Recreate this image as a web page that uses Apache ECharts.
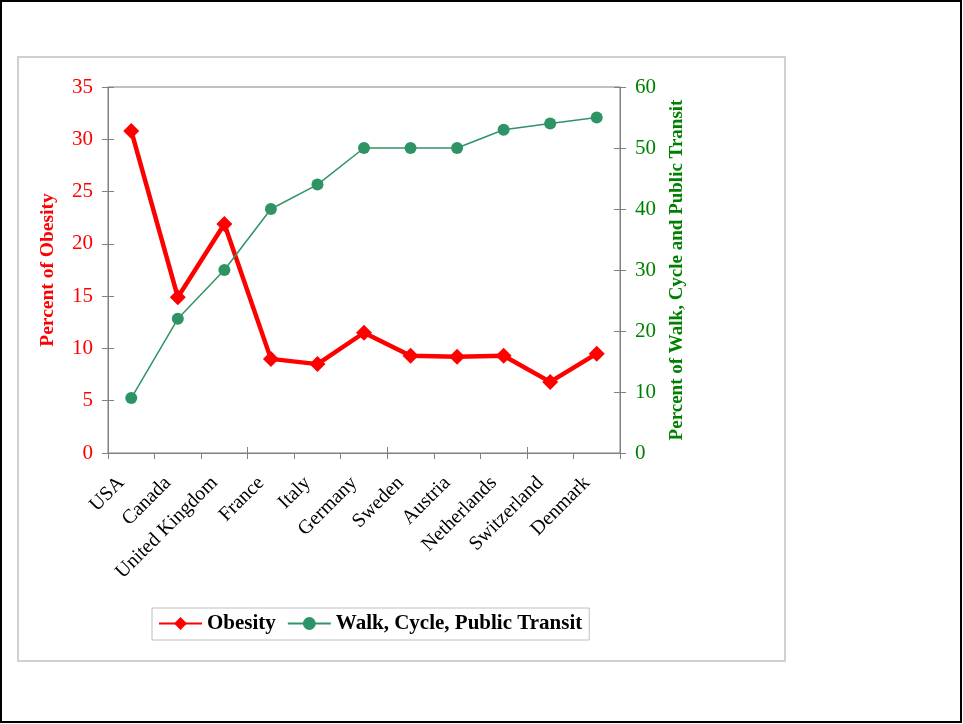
<!DOCTYPE html>
<html>
<head>
<meta charset="utf-8">
<script src="https://cdn.jsdelivr.net/npm/echarts@6/dist/echarts.min.js"></script>
<style>
  html, body { margin: 0; padding: 0; background: #fff; }
  #chart { width: 963px; height: 724px; }
</style>
</head>
<body>
<div id="chart"></div>
<script>
const countries = ['USA', 'Canada', 'United Kingdom', 'France', 'Italy', 'Germany',
  'Sweden', 'Austria', 'Netherlands', 'Switzerland', 'Denmark'];
const obesity = [30.8, 14.9, 21.9, 9.0, 8.5, 11.5, 9.3, 9.2, 9.3, 6.8, 9.5];
const walkCycleTransit = [9, 22, 30, 40, 44, 50, 50, 50, 53, 54, 55];

const serif = 'Liberation Serif';
const red = '#ff0000';
const green = '#008000';
const seaGreen = '#2e9466';
const axisGray = '#808080';

// the reference has ticks crossing the axis lines; an extra axis with
// inside ticks draws the inner half
const innerTicks = {show: true, inside: true, length: 6, lineStyle: {color: axisGray}};
const outerTicks = {show: true, length: 6, lineStyle: {color: axisGray}};

const chart = echarts.init(document.getElementById('chart'));
chart.setOption({
  animation: false,
  textStyle: {fontFamily: serif},
  graphic: [
    {type: 'rect', shape: {x: 1, y: 1, width: 960, height: 721},
      style: {fill: 'none', stroke: '#000', lineWidth: 2}, silent: true},
    {type: 'rect', shape: {x: 18, y: 57, width: 767, height: 604},
      style: {fill: 'none', stroke: '#d0d0d0', lineWidth: 2}, silent: true}
  ],
  grid: {
    left: 108, right: 343, top: 87, bottom: 271,
    show: true, borderColor: axisGray, borderWidth: 1
  },
  legend: {
    left: 152, top: 608,
    padding: [5, 7, 6, 6],
    borderColor: '#c0c0c0', borderWidth: 1,
    itemWidth: 43, itemHeight: 16, itemGap: 11,
    textStyle: {fontFamily: serif, fontSize: 21, fontWeight: 'bold', color: '#000'},
    data: ['Obesity', 'Walk, Cycle, Public Transit']
  },
  xAxis: [{
    type: 'category',
    data: countries,
    axisLine: {lineStyle: {color: axisGray}},
    axisTick: outerTicks,
    axisLabel: {
      rotate: 45, margin: 17, padding: [0, 14, 0, 0],
      fontSize: 20, color: '#000', fontFamily: serif, interval: 0
    }
  }, {
    type: 'category',
    data: countries,
    position: 'bottom',
    axisLine: {show: false},
    axisTick: innerTicks,
    axisLabel: {show: false}
  }],
  yAxis: [{
    type: 'value', min: 0, max: 35, interval: 5,
    name: 'Percent of Obesity',
    nameLocation: 'middle', nameGap: 50,
    nameTextStyle: {color: red, fontSize: 19.5, fontWeight: 'bold', fontFamily: serif},
    axisLine: {show: true, lineStyle: {color: axisGray}},
    axisTick: outerTicks,
    axisLabel: {color: red, fontSize: 21, margin: 15, fontFamily: serif},
    splitLine: {show: false}
  }, {
    type: 'value', min: 0, max: 60, interval: 10,
    position: 'right',
    name: 'Percent of Walk, Cycle and Public Transit',
    nameLocation: 'middle', nameGap: 48, nameRotate: 90,
    nameTextStyle: {color: green, fontSize: 19, fontWeight: 'bold', fontFamily: serif},
    axisLine: {show: true, lineStyle: {color: axisGray}},
    axisTick: outerTicks,
    axisLabel: {color: green, fontSize: 21, margin: 15, fontFamily: serif},
    splitLine: {show: false}
  }, {
    type: 'value', min: 0, max: 35, interval: 5,
    position: 'left',
    axisLine: {show: false}, axisTick: innerTicks,
    axisLabel: {show: false}, splitLine: {show: false}
  }, {
    type: 'value', min: 0, max: 60, interval: 10,
    position: 'right',
    axisLine: {show: false}, axisTick: innerTicks,
    axisLabel: {show: false}, splitLine: {show: false}
  }],
  series: [{
    name: 'Obesity',
    type: 'line',
    yAxisIndex: 0,
    data: obesity,
    symbol: 'diamond',
    symbolSize: 16,
    color: red,
    lineStyle: {color: red, width: 4.5},
    itemStyle: {color: red}
  }, {
    name: 'Walk, Cycle, Public Transit',
    type: 'line',
    yAxisIndex: 1,
    data: walkCycleTransit,
    symbol: 'circle',
    symbolSize: 12,
    color: seaGreen,
    lineStyle: {color: seaGreen, width: 1.5},
    itemStyle: {color: seaGreen}
  }]
});
</script>
</body>
</html>
